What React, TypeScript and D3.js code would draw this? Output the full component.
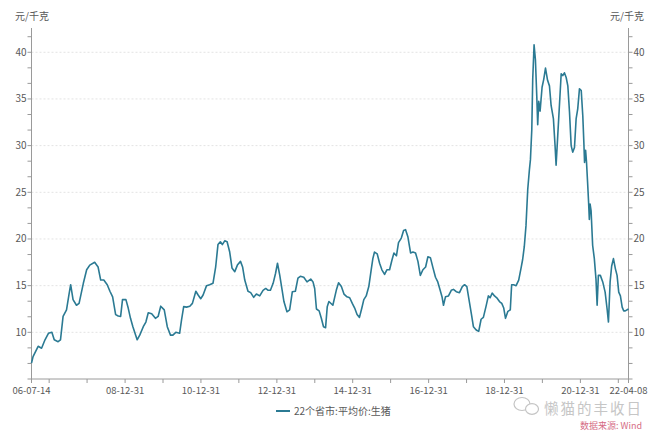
import React from "react";
import * as d3 from "d3";

const dates: string[] = [
  "2006-07-14","2006-07-29","2006-09-16","2006-10-19","2006-11-21","2006-12-24",
  "2007-01-26","2007-02-18","2007-03-27","2007-04-19","2007-05-14","2007-06-16","2007-07-12","2007-07-26","2007-08-18","2007-09-20","2007-10-15","2007-11-25","2007-12-27",
  "2008-01-26","2008-03-13","2008-04-15","2008-05-10","2008-06-09","2008-07-12","2008-08-07","2008-09-02","2008-10-01","2008-10-26","2008-11-18","2008-12-06",
  "2009-01-08","2009-01-30","2009-02-21","2009-03-16","2009-04-26","2009-05-21","2009-06-24","2009-07-19","2009-08-11","2009-09-13","2009-10-19","2009-11-14","2009-12-09",
  "2010-01-12","2010-02-10","2010-03-13","2010-04-05","2010-05-03","2010-06-09","2010-06-27","2010-07-18","2010-08-14","2010-09-15","2010-10-10","2010-11-12","2010-12-04","2010-12-29",
  "2011-01-21","2011-02-23","2011-03-25","2011-04-26","2011-05-22","2011-06-13","2011-07-06","2011-07-25","2011-08-17","2011-09-09","2011-10-04","2011-10-26","2011-11-22","2011-12-17",
  "2012-01-16","2012-02-05","2012-02-26","2012-03-28","2012-04-23","2012-05-22","2012-06-17","2012-07-19","2012-08-20","2012-09-15","2012-10-08","2012-10-30","2012-11-25","2012-12-18",
  "2013-01-06","2013-01-28","2013-02-20","2013-03-09","2013-04-07","2013-05-03","2013-05-29","2013-06-27","2013-07-22","2013-08-14","2013-09-16","2013-10-17","2013-11-22","2013-12-14","2013-12-30",
  "2014-01-16","2014-02-11","2014-03-04","2014-03-25","2014-04-14","2014-04-30","2014-05-16","2014-06-23","2014-07-26","2014-08-17","2014-09-13","2014-10-08","2014-11-06","2014-12-02","2014-12-27",
  "2015-01-19","2015-02-11","2015-03-06","2015-03-29","2015-04-17","2015-05-10","2015-06-04","2015-06-27","2015-07-13","2015-07-29","2015-08-24","2015-09-16","2015-10-08","2015-11-03","2015-11-25","2015-12-21",
  "2016-01-13","2016-02-01","2016-02-25","2016-03-16","2016-04-12","2016-05-04","2016-05-23","2016-06-14","2016-07-10","2016-08-02","2016-08-27","2016-09-19","2016-10-12","2016-11-06","2016-12-02","2016-12-24",
  "2017-01-17","2017-02-11","2017-03-07","2017-03-29","2017-04-21","2017-05-10","2017-05-23","2017-06-11","2017-07-10","2017-08-06","2017-08-27","2017-09-23","2017-10-24","2017-11-20","2017-12-12",
  "2018-01-03","2018-01-22","2018-02-15","2018-03-07","2018-04-03","2018-04-27","2018-05-20","2018-06-11","2018-07-07","2018-07-29","2018-08-15","2018-09-04","2018-09-26","2018-10-18","2018-11-13","2018-12-05","2018-12-24",
  "2019-01-10","2019-02-02","2019-02-25","2019-03-10","2019-03-29","2019-04-22","2019-05-17","2019-06-09","2019-06-24","2019-07-10","2019-07-26","2019-08-12","2019-08-28","2019-09-07","2019-09-20","2019-09-29","2019-10-12","2019-10-25","2019-11-07","2019-11-16","2019-11-26","2019-12-09","2019-12-28",
  "2020-01-13","2020-01-30","2020-02-19","2020-03-08","2020-03-24","2020-04-15","2020-05-01","2020-05-11","2020-05-27","2020-06-12","2020-06-29","2020-07-14","2020-07-30","2020-08-16","2020-09-01","2020-09-17","2020-10-03","2020-10-18","2020-11-04","2020-11-20","2020-12-05","2020-12-22",
  "2021-01-08","2021-01-23","2021-02-02","2021-02-09","2021-02-19","2021-02-28","2021-03-10","2021-03-20","2021-03-27","2021-04-03","2021-04-13","2021-04-28","2021-05-14","2021-05-30","2021-06-10","2021-06-22","2021-07-11","2021-08-03","2021-08-26","2021-09-14","2021-09-27","2021-10-13","2021-10-28","2021-11-14","2021-12-03","2021-12-19",
  "2022-01-04","2022-01-20","2022-02-06","2022-02-21","2022-03-08","2022-04-08"
];

const prices: number[] = [
  6.7,7.4,8.5,8.3,9.2,9.9,
  10.0,9.2,9.0,9.2,11.7,12.4,14.2,15.1,13.5,12.9,13.1,15.25,16.7,
  17.2,17.5,17.0,15.6,15.6,15.1,14.4,13.8,11.9,11.75,11.7,13.5,
  13.5,12.6,11.5,10.6,9.2,9.7,10.6,11.1,12.1,12.0,11.5,11.7,12.8,
  12.4,10.6,9.7,9.7,10.0,9.9,11.3,12.75,12.7,12.8,13.1,14.4,14.0,13.6,
  14.0,15.0,15.1,15.25,17.0,19.4,19.7,19.4,19.8,19.7,18.6,16.9,16.5,17.2,
  17.6,17.0,15.6,14.4,14.25,13.75,14.1,13.9,14.5,14.7,14.5,14.5,15.25,16.3,
  17.4,16.1,14.5,13.3,12.2,12.4,14.35,14.4,15.8,16.0,15.9,15.4,15.7,15.4,14.7,
  12.5,12.3,11.5,10.6,10.5,12.75,13.3,12.9,14.5,15.3,14.9,14.1,13.8,13.7,13.1,
  12.6,11.9,11.6,12.6,13.5,13.9,14.9,16.7,17.9,18.6,18.4,17.4,16.7,16.2,16.7,16.7,
  17.75,18.5,18.2,19.6,20.1,20.9,21.0,20.25,18.5,18.6,18.5,17.6,16.1,16.7,17.0,18.1,
  18.0,16.9,15.9,15.4,14.5,13.75,12.9,13.8,13.9,14.5,14.6,14.35,14.25,14.9,15.1,
  14.9,13.6,12.0,10.6,10.25,10.1,11.4,11.6,12.8,13.9,13.7,14.2,13.9,13.7,13.3,13.1,12.6,
  11.5,12.25,12.4,15.1,15.1,15.0,15.6,16.9,17.8,19.2,21.4,25.3,27.4,28.5,31.7,37.1,40.8,39.2,35.3,32.25,34.75,33.7,36.25,
  37.1,38.3,37.0,36.4,34.3,32.9,30.0,27.9,31.1,34.3,37.7,37.5,37.8,37.3,36.4,33.6,30.0,29.3,29.8,32.9,33.9,36.1,
  35.9,33.2,30.4,28.2,29.5,28.2,26.1,23.9,22.1,23.75,23.0,19.3,17.9,15.7,12.9,16.1,16.1,15.4,14.3,12.5,11.1,15.4,17.1,17.9,16.8,16.1,
  14.3,13.9,12.7,12.3,12.3,12.5
];

const xTickDates: string[] = [
  "2006-07-14","2006-12-31","2007-12-31","2008-12-31","2009-12-31","2010-12-31","2011-12-31",
  "2012-12-31","2013-12-31","2014-12-31","2015-12-31","2016-12-31","2017-12-31","2018-12-31",
  "2019-12-31","2020-12-31","2021-12-31","2022-04-08"
];
const xLabelDates: string[] = [
  "2006-07-14","2008-12-31","2010-12-31","2012-12-31","2014-12-31","2016-12-31","2018-12-31","2020-12-31","2022-04-08"
];
const yMajorTicks: number[] = [10, 15, 20, 25, 30, 35, 40];
const unitLabel = "元/千克";
const seriesName = "22个省市:平均价:生猪";
const watermark = "懒猫的丰收日";
const sourceText = "数据来源: Wind";

export default function App() {
  const W = 660, H = 432;
  const left = 31.5, right = 628.5, top = 28, bottom = 379;
  const parse = d3.utcParse("%Y-%m-%d");
  const fmt = d3.utcFormat("%y-%m-%d");
  const pts = dates.map((d, i) => ({ d: parse(d) as Date, v: prices[i] }));
  const x = d3.scaleUtc().domain([pts[0].d, pts[pts.length - 1].d]).range([left, right]);
  const y = d3.scaleLinear().domain([5, 42.6]).range([bottom, top]);
  const line = d3.line<{ d: Date; v: number }>().x(p => x(p.d)).y(p => y(p.v));
  const minorTicks = d3.range(0, 24).map(i => 5 + (i * 5) / 3).filter(v => v <= 42.6);
  const font = "'Noto Sans CJK SC', 'Noto Sans', sans-serif";
  const axisColor = "#9a9a9a";
  const textColor = "#595959";
  const lineColor = "#2b7a93";

  return (
    <svg width={W} height={H} style={{ position: "absolute", left: 0, top: 0, background: "#fff" }} fontFamily={font}>
      <rect width={W} height={H} fill="#fff" />
      {yMajorTicks.map(t => (
        <line key={"g" + t} x1={left} x2={right} y1={y(t)} y2={y(t)} stroke="#e3e3e3" strokeWidth={1} strokeDasharray="2,2" />
      ))}
      <line x1={left} x2={left} y1={top} y2={bottom} stroke={axisColor} />
      <line x1={right} x2={right} y1={top} y2={bottom} stroke={axisColor} />
      <line x1={left} x2={right} y1={bottom} y2={bottom} stroke={axisColor} />
      {minorTicks.map(t => (
        <g key={"m" + t}>
          <line x1={left - 4} x2={left} y1={y(t)} y2={y(t)} stroke={axisColor} />
          <line x1={right} x2={right + 4} y1={y(t)} y2={y(t)} stroke={axisColor} />
        </g>
      ))}
      {yMajorTicks.map(t => (
        <g key={"yl" + t}>
          <text x={left - 5} y={y(t)} dy="0.35em" textAnchor="end" fontSize={10} fill={textColor}>{t}</text>
          <text x={right + 5} y={y(t)} dy="0.35em" textAnchor="start" fontSize={10} fill={textColor}>{t}</text>
        </g>
      ))}
      {xTickDates.map(d => {
        const xx = x(parse(d) as Date);
        return <line key={"xt" + d} x1={xx} x2={xx} y1={bottom} y2={bottom + 4} stroke={axisColor} />;
      })}
      {xLabelDates.map(d => (
        <text key={"xl" + d} x={x(parse(d) as Date)} y={394.3} textAnchor="middle" fontSize={9.5} fill={textColor}>{fmt(parse(d) as Date)}</text>
      ))}
      <text x={15} y={20} fontSize={10} fill={textColor}>{unitLabel}</text>
      <text x={644} y={20} fontSize={10} fill={textColor} textAnchor="end">{unitLabel}</text>
      <path d={line(pts) || ""} fill="none" stroke={lineColor} strokeWidth={1.6} strokeLinejoin="round" />
      <line x1={276} x2={290} y1={411} y2={411} stroke={lineColor} strokeWidth={2} />
      <text x={294} y={414.5} fontSize={10} fill={textColor}>{seriesName}</text>
      <g fill="none" stroke="#c4c4c4" strokeWidth={1.2}>
        <ellipse cx={522} cy={404} rx={8} ry={6.5} />
        <ellipse cx={532} cy={409} rx={6.5} ry={5.3} fill="#fff" />
      </g>
      <text x={544} y={414.1} fontSize={14.5} letterSpacing={2} fill="#c6c6c6">{watermark}</text>
      <text x={580} y={429} fontSize={9} fill="#c8385a" opacity={0.75}>{sourceText}</text>
    </svg>
  );
}
